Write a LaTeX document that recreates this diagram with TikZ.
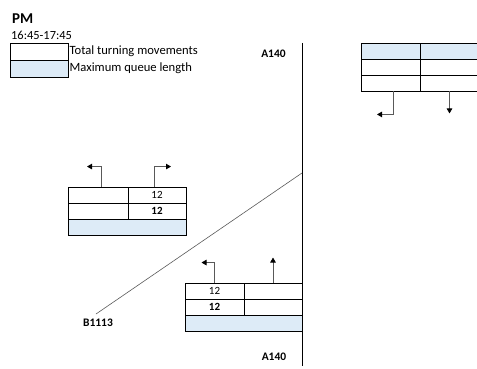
\documentclass[tikz,border=0pt]{standalone}
\usepackage{fontspec}
\setmainfont{Carlito}
\usetikzlibrary{arrows.meta, positioning}
\definecolor{queueblue}{HTML}{DDEBF7}
\definecolor{stemgray}{HTML}{595959}

\begin{document}
\begin{tikzpicture}[
      x=1pt, y=-1pt,
      >={Triangle[width=5.5pt, length=5pt, color=black]},
      cell/.style={draw, line width=0.9pt, minimum width=59pt, minimum height=16pt, inner sep=0pt, font=\fontsize{11}{12}\selectfont},
      queue/.style={cell, fill=queueblue, minimum width=118pt},
      legbox/.style={draw, line width=0.9pt, minimum width=58pt, minimum height=17pt, inner sep=0pt},
      legtext/.style={anchor=west, inner sep=1pt, font=\fontsize{12.6}{14}\selectfont},
      road/.style={font=\bfseries\fontsize{11.5}{13}\selectfont},
      turn/.style={->, draw=stemgray, line width=0.8pt}
    ]

    \clip (0,0) rectangle (477,369);

    \node[anchor=west, inner sep=0pt, font=\bfseries\fontsize{15}{17}\selectfont] (title) at (12,19) {PM};
    \node[anchor=west, inner sep=0pt, font=\fontsize{12.4}{14}\selectfont] (period) at (11,35) {16:45-17:45};
    \node[legbox] (legtotal) at (39,51.5) {};
    \node[legbox, fill=queueblue] (legqueue) at (39,68.5) {};
    \node[legtext] at (legtotal.east) {Total turning movements};
    \node[legtext] at (legqueue.east) {Maximum queue length};

    % roads
    \node[road] (northname) at (273.5,54) {A140};
    \node[road] (southname) at (274,357) {A140};
    \node[road] (westname) at (98,323) {B1113};
    \coordinate (mainnorth) at (302,43);
    \coordinate (mainsouth) at (302,366);
    \coordinate (sidejoin) at (302,173);
    \coordinate (sideend) at (96,314);
    \draw[line width=0.9pt] (mainnorth) -- (mainsouth);
    \draw[stemgray, line width=0.6pt] (sidejoin) -- (sideend);

    % north-east arm
    \node[cell, fill=queueblue] (nel0) at (390.5,51) {};
    \node[cell, fill=queueblue] (ner0) at (449.5,51) {};
    \node[cell] (nel1) at (390.5,67) {};
    \node[cell] (ner1) at (449.5,67) {};
    \node[cell] (nel2) at (390.5,83) {};
    \node[cell] (ner2) at (449.5,83) {};
    \draw[turn] ([xshift=2.5pt]nel2.south) -- ++(0,23) -- ++(-16,0);
    \draw[turn] (ner2.south) -- ++(0,22);

    % west arm
    \node[cell, minimum width=60pt] (wl1) at (98,195) {};
    \node[cell, minimum width=58pt] (wr1) at (157,195) {12};
    \node[cell, minimum width=60pt] (wl2) at (98,211) {};
    \node[cell, minimum width=58pt] (wr2) at (157,211) {\bfseries 12};
    \node[queue] (wq) at (127,227) {};
    \draw[turn] ([xshift=3pt]wl1.north) -- ++(0,-20) -- ++(-14,0);
    \draw[turn] ([xshift=-3pt]wr1.north) -- ++(0,-20) -- ++(17,0);

    % south arm
    \node[cell] (sl1) at (214.5,291) {12};
    \node[cell, minimum width=58pt] (sr1) at (273,291) {};
    \node[cell] (sl2) at (214.5,307) {\bfseries 12};
    \node[cell, minimum width=58pt] (sr2) at (273,307) {};
    \node[queue, minimum width=117pt] (sq) at (243.5,323) {};
    \draw[turn] (sl1.north) -- ++(0,-20) -- ++(-13,0);
    \draw[turn] (sr1.north) -- ++(0,-25);

  \end{tikzpicture}
\end{document}
